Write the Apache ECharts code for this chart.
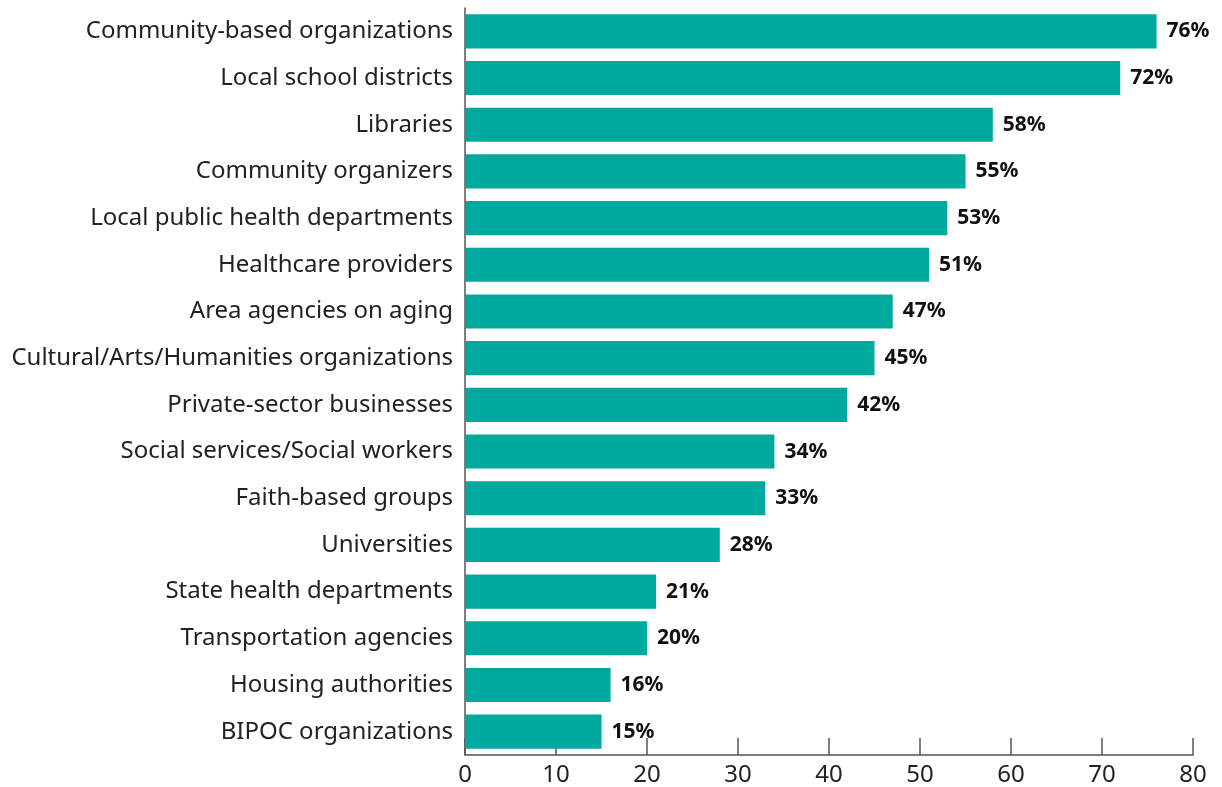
<!DOCTYPE html>
<html><head><meta charset="utf-8">
<script src="https://cdn.jsdelivr.net/npm/echarts@6/dist/echarts.min.js"></script>
<style>html,body{margin:0;padding:0;background:#fff}#c{width:1222px;height:787px}</style>
</head><body><div id="c"></div>
<script>
const categories = ["Community-based organizations","Local school districts","Libraries","Community organizers","Local public health departments","Healthcare providers","Area agencies on aging","Cultural/Arts/Humanities organizations","Private-sector businesses","Social services/Social workers","Faith-based groups","Universities","State health departments","Transportation agencies","Housing authorities","BIPOC organizations"];
const values = [76,72,58,55,53,51,47,45,42,34,33,28,21,20,16,15];
const xTicks = [0,10,20,30,40,50,60,70,80];

const chart = echarts.init(document.getElementById('c'));
chart.setOption({
  animation:false,
  grid:{left:465,right:29,top:8,bottom:32,containLabel:false},
  xAxis:{type:'value',min:xTicks[0],max:xTicks[xTicks.length-1],interval:10,
    axisLine:{show:true,lineStyle:{color:'#555',width:1.5}},
    axisTick:{show:true,inside:true,length:17,lineStyle:{color:'#555',width:1.5}},
    splitLine:{show:false},
    axisLabel:{color:'#222',fontSize:24,fontFamily:'Noto Sans',margin:8}},
  yAxis:{type:'category',inverse:true,data:categories,
    axisLine:{show:true,lineStyle:{color:'#555',width:1.5}},
    axisTick:{show:false},
    axisLabel:{color:'#222',fontSize:24,fontFamily:'Noto Sans',margin:12}},
  series:[{type:'bar',data:values,barCategoryGap:'27%',
    itemStyle:{color:'#00A99D'},
    label:{show:true,position:'right',distance:10,formatter:'{c}%',color:'#111',fontWeight:'bold',fontSize:21,fontFamily:'Noto Sans'}}]
});
</script></body></html>
